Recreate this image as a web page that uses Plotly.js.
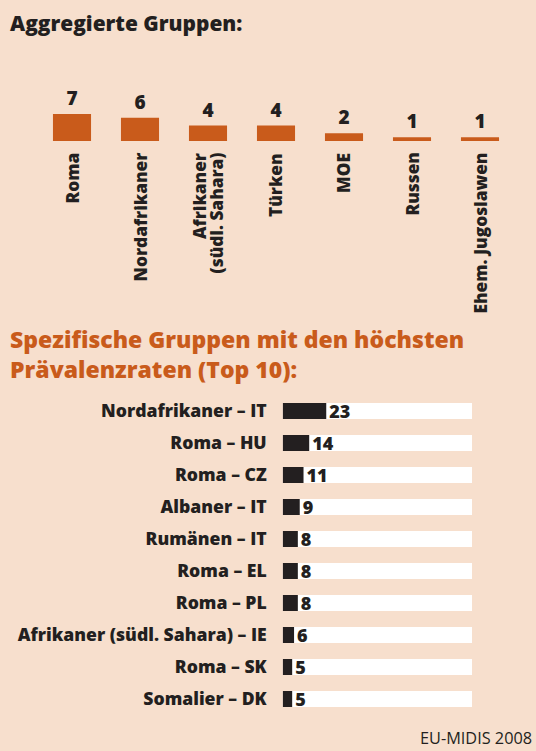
<!DOCTYPE html>
<html>
<head>
<meta charset="utf-8">
<script src="https://cdn.plot.ly/plotly-3.0.1.min.js"></script>
<style>
  html, body { margin: 0; padding: 0; background: #f7dfcd; }
  #chart { width: 536px; height: 751px; }
</style>
</head>
<body>
<div id="chart"></div>
<script>
// ---- data ----
const aggCategories = ['Roma', 'Nordafrikaner', 'Afrikaner (südl. Sahara)', 'Türken', 'MOE', 'Russen', 'Ehem. Jugoslawen'];
const aggLabelLines = [['Roma'], ['Nordafrikaner'], ['Afrikaner', '(südl. Sahara)'], ['Türken'], ['MOE'], ['Russen'], ['Ehem. Jugoslawen']];
const aggValues = [7, 6, 4, 4, 2, 1, 1];

const topGroups = ['Nordafrikaner – IT', 'Roma – HU', 'Roma – CZ', 'Albaner – IT', 'Rumänen – IT',
                   'Roma – EL', 'Roma – PL', 'Afrikaner (südl. Sahara) – IE', 'Roma – SK', 'Somalier – DK'];
const topValues = [23, 14, 11, 9, 8, 8, 8, 6, 5, 5];
const scaleMax = 100;

// ---- styling ----
const W = 536, H = 751;
const BG = '#f7dfcd';
const ORANGE = '#c95b1b';
const DARK = '#231f20';
const FONT = 'Open Sans';
const px = v => v / W;
const py = v => 1 - v / H;

const traces = [
  {
    type: 'bar',
    x: aggCategories,
    y: aggValues,
    xaxis: 'x', yaxis: 'y',
    width: 0.56,
    marker: { color: ORANGE, line: { width: 0 } },
    text: aggValues.map(String),
    textposition: 'outside',
    textfont: { family: FONT, size: 19, weight: 800, color: DARK },
    constraintext: 'none',
    cliponaxis: false,
    hoverinfo: 'skip'
  },
  {
    type: 'bar',
    orientation: 'h',
    y: topGroups,
    x: topGroups.map(() => scaleMax),
    xaxis: 'x2', yaxis: 'y2',
    width: 0.5,
    marker: { color: '#ffffff', line: { width: 0 } },
    hoverinfo: 'skip'
  },
  {
    type: 'bar',
    orientation: 'h',
    y: topGroups,
    x: topValues,
    xaxis: 'x2', yaxis: 'y2',
    width: 0.5,
    marker: { color: DARK, line: { width: 0 } },
    text: topValues.map(String),
    textposition: 'outside',
    textfont: { family: FONT, size: 18, weight: 800, color: DARK },
    constraintext: 'none',
    cliponaxis: false,
    hoverinfo: 'skip'
  }
];

// category labels below the top bars (rotated), placed on the category axis
const catAnnotations = [];
aggCategories.forEach((cat, i) => {
  const lines = aggLabelLines[i];
  const n = lines.length;
  lines.forEach((line, j) => {
    catAnnotations.push({
      xref: 'x', yref: 'paper', x: cat, y: py(151),
      xanchor: 'center', yanchor: 'top',
      xshift: (j - (n - 1) / 2) * 16,
      textangle: -90,
      text: line, showarrow: false,
      font: { family: FONT, size: 17.3, weight: 800, color: DARK }
    });
  });
});

const layout = {
  width: W, height: H,
  margin: { l: 0, r: 0, t: 0, b: 0, pad: 0 },
  paper_bgcolor: BG,
  plot_bgcolor: 'rgba(0,0,0,0)',
  showlegend: false,
  barmode: 'overlay',
  font: { family: FONT, color: DARK },
  xaxis: {
    domain: [px(38), px(514)],
    type: 'category',
    categoryarray: aggCategories,
    showgrid: false, zeroline: false, showline: false,
    ticks: '', showticklabels: false,
    fixedrange: true, automargin: false
  },
  yaxis: {
    domain: [py(141), py(141 - 14 * 3.86)],
    range: [0, 14],
    visible: false, fixedrange: true
  },
  xaxis2: {
    domain: [px(282.7), px(472)],
    range: [0, scaleMax],
    visible: false, fixedrange: true, anchor: 'y2'
  },
  yaxis2: {
    domain: [py(715), py(395)],
    type: 'category',
    autorange: 'reversed',
    anchor: 'x2',
    showgrid: false, zeroline: false, showline: false,
    ticks: '',
    tickfont: { family: FONT, size: 17.6, weight: 800, color: DARK },
    ticklabelstandoff: 15,
    fixedrange: true, automargin: false
  },
  annotations: [
    { xref: 'paper', yref: 'paper', x: px(8), y: py(23), xanchor: 'left', yanchor: 'middle',
      text: 'Aggregierte Gruppen:', showarrow: false,
      font: { family: FONT, size: 20.9, weight: 800, color: DARK } },
    { xref: 'paper', yref: 'paper', x: px(8), y: py(354), xanchor: 'left', yanchor: 'middle',
      align: 'left',
      text: 'Spezifische Gruppen mit den höchsten<br>Prävalenzraten (Top 10):', showarrow: false,
      font: { family: FONT, size: 23, weight: 800, color: ORANGE } },
    { xref: 'paper', yref: 'paper', x: px(534), y: py(738), xanchor: 'right', yanchor: 'middle',
      text: 'EU-MIDIS 2008', showarrow: false,
      font: { family: FONT, size: 16.3, color: DARK } }
  ].concat(catAnnotations)
};

Plotly.newPlot('chart', traces, layout, { displayModeBar: false, staticPlot: true });
</script>
</body>
</html>
